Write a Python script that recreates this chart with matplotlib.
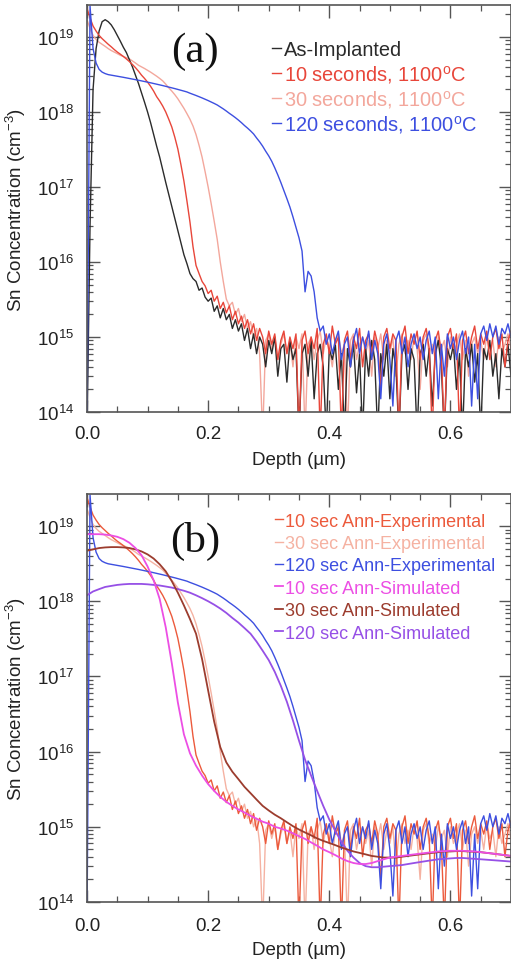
import numpy as np
import matplotlib
matplotlib.use("Agg")
import matplotlib.pyplot as plt
from matplotlib.ticker import MultipleLocator, LogLocator, NullFormatter

plt.rcParams["font.family"] = ["Liberation Sans", "DejaVu Sans"]
plt.rcParams["mathtext.fontset"] = "custom"
plt.rcParams["mathtext.rm"] = "Liberation Sans"
plt.rcParams["mathtext.it"] = "Liberation Sans:italic"
plt.rcParams["mathtext.bf"] = "Liberation Sans:bold"

# SIMS depth sampling (µm) for the measured profiles
depth_step = 0.005
n_points = 141

# Measured Sn concentration (cm^-3)
as_implanted = [
    5e13, 3e16, 2e18, 7e18, 1.2e19, 1.6e19, 1.7e19, 1.6e19, 1.45e19, 1.25e19,
    1.05e19, 8.8e18, 7.3e18, 6.2e18, 5.0e18, 4.0e18, 3.1e18, 2.4e18, 1.8e18, 1.35e18,
    1.0e18, 7.2e17, 5.0e17, 3.5e17, 2.5e17, 1.7e17, 1.15e17, 8e16, 5.5e16, 3.8e16,
    2.6e16, 1.8e16, 1.25e16, 9.5e15, 7e15, 6e15, 5.5e15, 4.2e15, 4.5e15, 3.4e15,
    3.0e15, 3.3e15, 2.2e15, 2.6e15, 1.8e15, 2.4e15, 1.7e15, 2.0e15, 1.3e15, 1.7e15,
    1.2e15, 1.5e15, 9e14, 1.3e15, 7e14, 1.1e15, 6e14, 1.0e15, 8e14, 4e14,
    9e14, 6e14, 1.0e15, 3e14, 7e14, 8e14, 2.5e14, 9e14, 5e14, 7e14,
    5e13, 6e14, 8e14, 3e14, 9e14, 1.5e14, 6e14, 8e14, 4e14, 5e13,
    7e14, 5e14, 8e14, 2e14, 6e14, 5e13, 7e14, 4e14, 8e14, 1.8e14,
    6e14, 5e13, 7e14, 3e14, 9e14, 5e14, 5e13, 6e14, 3e14, 8e14,
    1.5e14, 7e14, 4e14, 5e13, 6e14, 8e14, 2e14, 7e14, 5e14, 5e13,
    6e14, 8e14, 3e14, 7e14, 1.2e14, 6e14, 9e14, 4e14, 5e13, 7e14,
    5e14, 8e14, 2e14, 6e14, 5e13, 7e14, 4e14, 8e14, 2.5e14, 6e14,
    5e13, 7e14, 5e14, 9e14, 3e14, 6e14, 1.5e14, 7e14, 4e14, 8e14,
    3e14,
]

anneal_10s = [
    2.4e19, 1.8e19, 1.4e19, 1.2e19, 1.05e19, 9.5e18, 8.7e18, 8.0e18, 7.4e18, 6.8e18,
    6.3e18, 5.9e18, 5.5e18, 5.1e18, 4.7e18, 4.3e18, 3.9e18, 3.5e18, 3.1e18, 2.8e18,
    2.5e18, 2.2e18, 1.9e18, 1.6e18, 1.4e18, 1.2e18, 1.0e18, 8e17, 6.3e17, 4.6e17,
    3.2e17, 2.0e17, 1.2e17, 6.5e16, 3.4e16, 1.6e16, 9e15, 7e15, 5.5e15, 4.8e15,
    3.8e15, 4.2e15, 3.0e15, 3.5e15, 2.4e15, 2.9e15, 2.1e15, 2.6e15, 1.7e15, 2.2e15,
    1.5e15, 1.9e15, 1.3e15, 1.7e15, 1.1e15, 1.5e15, 9e14, 1.3e15, 1.0e15, 6e14,
    1.2e15, 8e14, 1.1e15, 5e14, 9e14, 1.2e15, 6e14, 1.0e15, 7e14, 1.1e15,
    5e13, 9e14, 1.2e15, 6e14, 1.0e15, 7e14, 1.3e15, 5e13, 8e14, 1.1e15,
    6e14, 1.4e15, 8e14, 1.0e15, 5e13, 9e14, 1.2e15, 5e14, 1.0e15, 7e14,
    1.3e15, 4e14, 9e14, 1.1e15, 6e14, 1.2e15, 8e14, 2e14, 1.0e15, 1.3e15,
    7e14, 1.1e15, 9e14, 5e13, 1.0e15, 1.4e15, 6e14, 1.1e15, 8e14, 1.2e15,
    5e14, 1.0e15, 1.3e15, 7e14, 5e13, 9e14, 1.2e15, 6e14, 5e13, 1.0e15,
    1.3e15, 7e14, 1.1e15, 5e13, 9e14, 1.2e15, 6e14, 1.0e15, 1.4e15, 7e14,
    1.1e15, 8e14, 1.2e15, 5e14, 1.0e15, 1.3e15, 7e14, 1.1e15, 4e14, 9e14,
    1.2e15,
]

anneal_30s = [
    1.7e19, 1.3e19, 1.05e19, 9.3e18, 8.5e18, 8.0e18, 7.5e18, 7.0e18, 6.6e18, 6.3e18,
    6.0e18, 5.7e18, 5.5e18, 5.3e18, 5.1e18, 4.8e18, 4.5e18, 4.2e18, 4.0e18, 3.8e18,
    3.6e18, 3.4e18, 3.2e18, 3.0e18, 2.8e18, 2.6e18, 2.35e18, 2.1e18, 1.9e18, 1.7e18,
    1.5e18, 1.3e18, 1.12e18, 9.5e17, 8e17, 6.5e17, 5e17, 3.6e17, 2.5e17, 1.6e17,
    1.0e17, 6e16, 3.5e16, 2e16, 1.0e16, 5.5e15, 3.2e15, 2.6e15, 2.9e15, 2.0e15,
    2.4e15, 1.6e15, 2.0e15, 1.3e15, 1.6e15, 1.0e15, 1.3e15, 6e14, 5e13, 9e14,
    1.1e15, 7e14, 1.0e15, 5e14, 8e14, 1.1e15, 6e14, 9e14, 4e14, 1.0e15,
    7e14, 1.1e15, 5e13, 8e14, 1.0e15, 5e14, 9e14, 1.2e15, 6e14, 1.0e15,
    7e14, 4e14, 9e14, 1.1e15, 6e14, 8e14, 5e13, 9e14, 1.1e15, 5e14,
    8e14, 1.0e15, 6e14, 9e14, 3e14, 1.0e15, 7e14, 1.1e15, 5e14, 9e14,
    6e14, 1.0e15, 3e14, 8e14, 1.1e15, 6e14, 9e14, 5e14, 1.0e15, 7e14,
    2e14, 9e14, 1.1e15, 6e14, 8e14, 5e14, 1.0e15, 7e14, 9e14, 4e14,
    1.0e15, 6e14, 8e14, 1.1e15, 5e14, 9e14, 3e14, 8e14, 1.0e15, 6e14,
    9e14, 5e14, 1.1e15, 7e14, 9e14, 4e14, 1.0e15, 6e14, 8e14, 1.1e15,
    7e14,
]

anneal_120s = [
    5e13, 2.6e19, 7e18, 4.5e18, 3.7e18, 3.4e18, 3.25e18, 3.15e18, 3.1e18, 3.05e18,
    3.0e18, 2.95e18, 2.9e18, 2.85e18, 2.8e18, 2.75e18, 2.7e18, 2.65e18, 2.6e18, 2.55e18,
    2.5e18, 2.45e18, 2.4e18, 2.35e18, 2.3e18, 2.25e18, 2.2e18, 2.15e18, 2.1e18, 2.05e18,
    2.0e18, 1.95e18, 1.9e18, 1.85e18, 1.78e18, 1.72e18, 1.66e18, 1.6e18, 1.54e18, 1.48e18,
    1.42e18, 1.36e18, 1.3e18, 1.24e18, 1.17e18, 1.1e18, 1.03e18, 9.6e17, 9.0e17, 8.4e17,
    7.8e17, 7.2e17, 6.6e17, 6.1e17, 5.6e17, 5.1e17, 4.5e17, 4.0e17, 3.5e17, 3.0e17,
    2.6e17, 2.2e17, 1.8e17, 1.45e17, 1.15e17, 9e16, 7e16, 5.4e16, 4.0e16, 2.9e16,
    2.1e16, 1.4e16, 4e15, 7.5e15, 6.5e15, 4e15, 1.8e15, 1.2e15, 1.4e15, 8e14,
    1.1e15, 6e14, 9e14, 1.2e15, 5e14, 8e14, 1.0e15, 4e14, 9e14, 1.3e15,
    6e14, 1.0e15, 7e14, 1.2e15, 5e14, 9e14, 6e14, 1.5e14, 8e14, 1.1e15,
    5e14, 1.2e14, 9e14, 1.2e15, 6e14, 1.0e15, 4e14, 8e14, 1.1e15, 7e14,
    1.0e15, 5e14, 9e14, 1.2e15, 6e14, 1.0e15, 1.5e14, 8e14, 3e14, 1.1e15,
    7e14, 1.0e15, 5e14, 9e14, 1.2e15, 6e14, 1.0e15, 1.2e14, 8e14, 1.5e14,
    1.1e15, 1.4e15, 9e14, 1.5e15, 1.0e15, 1.4e15, 8e14, 1.3e15, 1.1e15, 1.5e15,
    1.0e15,
]

# Simulated profiles, sampled every 0.01 µm
sim_step = 0.01
sim_points = 71

sim_10s = [
    7.8e18, 7.8e18, 7.8e18, 7.7e18, 7.5e18, 7.2e18, 6.7e18, 6.0e18, 5.1e18, 4.1e18,
    2.9e18, 1.9e18, 1.07e18, 4.5e17, 1.5e17, 4.5e16, 1.7e16, 9.5e15, 6.5e15, 4.8e15,
    3.7e15, 3.0e15, 2.5e15, 2.15e15, 1.9e15, 1.7e15, 1.55e15, 1.4e15, 1.28e15, 1.17e15,
    1.1e15, 1.0e15, 9.5e14, 8.9e14, 8.2e14, 7.5e14, 6.9e14, 6.2e14, 5.6e14, 5.0e14,
    4.6e14, 4.2e14, 3.8e14, 3.5e14, 3.3e14, 3.2e14, 3.2e14, 3.3e14, 3.5e14, 3.7e14,
    3.9e14, 4.0e14, 4.1e14, 4.2e14, 4.3e14, 4.4e14, 4.5e14, 4.6e14, 4.7e14, 4.75e14,
    4.8e14, 4.8e14, 4.8e14, 4.75e14, 4.7e14, 4.6e14, 4.5e14, 4.4e14, 4.3e14, 4.2e14,
    4.1e14,
]

sim_30s = [
    4.7e18, 4.9e18, 5.1e18, 5.2e18, 5.25e18, 5.25e18, 5.2e18, 5.1e18, 4.9e18, 4.6e18,
    4.2e18, 3.7e18, 3.1e18, 2.5e18, 1.85e18, 1.3e18, 8.8e17, 5.8e17, 3.7e17, 1.7e17,
    6.5e16, 2.5e16, 1.15e16, 7.2e15, 5.4e15, 4.3e15, 3.4e15, 2.8e15, 2.3e15, 1.9e15,
    1.65e15, 1.45e15, 1.3e15, 1.15e15, 1.02e15, 9.2e14, 8.4e14, 7.7e14, 7.0e14, 6.5e14,
    6.1e14, 5.7e14, 5.3e14, 5.0e14, 4.7e14, 4.5e14, 4.3e14, 4.1e14, 4.0e14, 3.9e14,
    3.9e14, 3.9e14, 4.0e14, 4.1e14, 4.2e14, 4.3e14, 4.4e14, 4.5e14, 4.6e14, 4.7e14,
    4.7e14, 4.75e14, 4.75e14, 4.7e14, 4.65e14, 4.6e14, 4.5e14, 4.4e14, 4.3e14, 4.2e14,
    4.1e14,
]

sim_120s = [
    1.2e18, 1.35e18, 1.45e18, 1.55e18, 1.6e18, 1.65e18, 1.68e18, 1.7e18, 1.7e18, 1.7e18,
    1.68e18, 1.65e18, 1.62e18, 1.57e18, 1.52e18, 1.45e18, 1.38e18, 1.3e18, 1.2e18, 1.1e18,
    1.0e18, 9.0e17, 8.0e17, 7.0e17, 6.0e17, 5.2e17, 4.4e17, 3.7e17, 2.9e17, 2.2e17,
    1.65e17, 1.15e17, 7.5e16, 4.6e16, 2.6e16, 1.4e16, 7.8e15, 4.8e15, 3.0e15, 1.9e15,
    1.25e15, 8.8e14, 6.3e14, 4.8e14, 3.9e14, 3.3e14, 3.0e14, 2.9e14, 2.9e14, 2.95e14,
    3.0e14, 3.05e14, 3.1e14, 3.2e14, 3.3e14, 3.4e14, 3.5e14, 3.6e14, 3.7e14, 3.75e14,
    3.8e14, 3.85e14, 3.85e14, 3.8e14, 3.75e14, 3.7e14, 3.65e14, 3.6e14, 3.55e14, 3.5e14,
    3.45e14,
]

depth = np.arange(n_points) * depth_step
sim_depth = np.arange(sim_points) * sim_step

FS = 13.5
SPINE = "#555555"
TEXT = "#222222"


def style_axes(ax, tick_pad, xlabel_pad):
    ax.set_yscale("log")
    ax.set_xlim(0, 0.7)
    ax.set_ylim(1e14, 2.67e19)
    ax.xaxis.set_major_locator(MultipleLocator(0.2))
    ax.xaxis.set_minor_locator(MultipleLocator(0.05))
    ax.yaxis.set_major_locator(LogLocator(base=10))
    ax.yaxis.set_minor_locator(LogLocator(base=10, subs=np.arange(2, 10), numticks=20))
    ax.yaxis.set_minor_formatter(NullFormatter())
    ax.xaxis.set_major_formatter(plt.FuncFormatter(lambda v, p: f"{v:.1f}"))
    ax.tick_params(which="both", direction="in", top=True, right=True,
                   color=SPINE, labelcolor=TEXT, labelsize=FS)
    ax.tick_params(which="major", length=9, width=1.0)
    ax.tick_params(which="minor", length=4.5, width=0.9)
    ax.tick_params(axis="x", which="major", pad=tick_pad)
    ax.tick_params(axis="y", which="major", pad=9)
    for s in ax.spines.values():
        s.set_color(SPINE)
        s.set_linewidth(1.2)
    ax.set_xlabel("Depth (µm)", fontsize=FS, color=TEXT, labelpad=xlabel_pad)
    ax.set_ylabel("Sn Concentration (cm$^{-3}$)", fontsize=FS, color=TEXT)
    ax.yaxis.set_label_coords(-0.139, 0.5)


fig = plt.figure(figsize=(5.11, 9.62), dpi=100)

# ---- (a) as-implanted and annealed profiles ----
ax_a = fig.add_axes([87 / 511, 549 / 962, 424 / 511, 407 / 962])
lw = 1.0
l_30 = ax_a.plot(depth, anneal_30s, color="#f3a79c", lw=lw)[0]
l_imp = ax_a.plot(depth, as_implanted, color="#2b2b2b", lw=lw)[0]
l_10 = ax_a.plot(depth, anneal_10s, color="#e8463a", lw=lw)[0]
l_120 = ax_a.plot(depth, anneal_120s, color="#3d4fe0", lw=lw)[0]
style_axes(ax_a, tick_pad=9.5, xlabel_pad=6)
ax_a.legend([l_imp, l_10, l_30, l_120],
            ["As-Implanted", "10 seconds, 1100$^{\\rm o}$C",
             "30 seconds, 1100$^{\\rm o}$C", "120 seconds, 1100$^{\\rm o}$C"],
            loc="upper left", bbox_to_anchor=(0.437, 0.913), frameon=False,
            handlelength=0.45, handletextpad=0.12, borderpad=0, borderaxespad=0,
            labelspacing=0.16, fontsize=14.4, labelcolor="linecolor")
ax_a.text(0.255, 0.887, "(a)", transform=ax_a.transAxes, fontsize=31,
          family="Liberation Serif", ha="center", va="center", color="#111111")

# ---- (b) experimental vs simulated ----
ax_b = fig.add_axes([87 / 511, 59 / 962, 424 / 511, 408 / 962])
e30 = ax_b.plot(depth, anneal_30s, color="#f5b2a2", lw=lw)[0]
e10 = ax_b.plot(depth, anneal_10s, color="#ec5a3c", lw=lw)[0]
e120 = ax_b.plot(depth, anneal_120s, color="#3d4fe0", lw=lw)[0]
s120 = ax_b.plot(sim_depth, sim_120s, color="#9650e6", lw=1.3)[0]
s30 = ax_b.plot(sim_depth, sim_30s, color="#9c3c2e", lw=1.3)[0]
s10 = ax_b.plot(sim_depth, sim_10s, color="#ec4ee4", lw=1.3)[0]
style_axes(ax_b, tick_pad=10.5, xlabel_pad=5)
ax_b.legend([e10, e30, e120, s10, s30, s120],
            ["10 sec Ann-Experimental", "30 sec Ann-Experimental",
             "120 sec Ann-Experimental", "10 sec Ann-Simulated",
             "30 sec Ann-Simulated", "120 sec Ann-Simulated"],
            loc="upper left", bbox_to_anchor=(0.443, 0.9545), frameon=False,
            handlelength=0.45, handletextpad=0.12, borderpad=0, borderaxespad=0,
            labelspacing=0.30, fontsize=13, labelcolor="linecolor")
ax_b.text(0.255, 0.885, "(b)", transform=ax_b.transAxes, fontsize=31,
          family="Liberation Serif", ha="center", va="center", color="#111111")

fig.savefig("out.png", dpi=100)
